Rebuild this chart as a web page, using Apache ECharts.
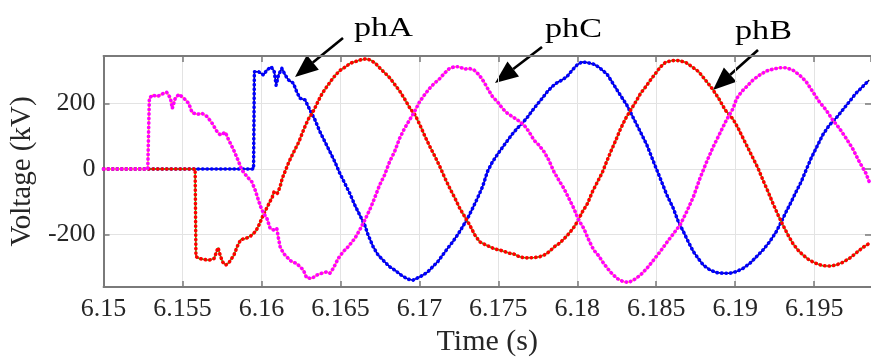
<!DOCTYPE html>
<html><head><meta charset="utf-8">
<script src="https://cdn.jsdelivr.net/npm/echarts@6/dist/echarts.min.js"></script>
<style>html,body{margin:0;padding:0;background:#fff}#c{width:871px;height:362px}</style>
</head><body><div id="c"></div>
<script>
// ---- Data (time in s, voltage in kV) ----
const phA_t = [6.1500,6.1595,6.15955,6.15982,6.16013,6.16034,6.16062,6.16081,6.16093,6.16108,6.16129,6.1615,6.16171,6.16202,6.16223,6.16244,6.16276,6.16307,6.16339,6.1637,6.16402,6.16433,6.16465,6.16496,6.16528,6.16559,6.16591,6.16622,6.16654,6.16675,6.16707,6.16738,6.1678,6.16811,6.16843,6.16885,6.16927,6.16959,6.1699,6.17022,6.17053,6.17085,6.17116,6.17148,6.17179,6.17211,6.17242,6.17274,6.17305,6.17337,6.17368,6.174,6.17431,6.17463,6.17495,6.17526,6.17558,6.17589,6.17621,6.17652,6.17684,6.17715,6.17747,6.17778,6.1781,6.17841,6.17873,6.17905,6.17936,6.17968,6.17999,6.1803,6.18062,6.18104,6.18136,6.18146,6.18188,6.1823,6.18272,6.18314,6.18356,6.18399,6.18441,6.18483,6.18525,6.18567,6.18608,6.1864,6.18672,6.18703,6.18735,6.18766,6.18798,6.1884,6.18882,6.18924,6.18966,6.19008,6.1905,6.19092,6.19134,6.19176,6.19218,6.1926,6.19292,6.19323,6.19355,6.19386,6.19418,6.19449,6.19481,6.19512,6.19554,6.19596,6.19638,6.1968,6.19722,6.19764,6.19806,6.19849];
const phA_v = [0,0,297,297,287,302,312,297,256,287,307,287,272,262,236,216,211,180,150,114,83,53,22,-13,-44,-74,-110,-140,-171,-201,-237,-262,-283,-298,-308,-324,-336,-339,-332,-324,-314,-298,-283,-262,-242,-222,-201,-176,-151,-120,-89,-54,-8,22,45,66,87,107,125,140,158,178,198,216,236,252,264,272,283,302,318,327,325,320,311,312,290,258,226,195,155,114,73,22,-28,-79,-120,-161,-191,-222,-252,-273,-293,-308,-316,-318,-318,-313,-303,-288,-268,-247,-222,-191,-161,-130,-100,-69,-39,-3,33,63,104,134,155,180,205,231,251,272];

const phB_t = [6.1500,6.1558,6.15585,6.15606,6.15638,6.15669,6.157,6.15725,6.15738,6.15753,6.15774,6.15795,6.15826,6.15848,6.15869,6.15901,6.15932,6.15964,6.15985,6.16006,6.16027,6.16048,6.16069,6.1608,6.16101,6.16118,6.16132,6.16153,6.16174,6.16195,6.16216,6.16237,6.16258,6.16279,6.163,6.16321,6.16342,6.16363,6.16385,6.16406,6.16437,6.16469,6.165,6.16532,6.16563,6.16595,6.16626,6.16658,6.16689,6.16721,6.16752,6.16784,6.16815,6.16847,6.16878,6.1691,6.16941,6.16973,6.17004,6.17036,6.17067,6.17099,6.1713,6.17162,6.17193,6.17225,6.17256,6.17288,6.17319,6.17351,6.17382,6.17414,6.17445,6.17477,6.17508,6.1754,6.17571,6.17603,6.17634,6.17666,6.17697,6.17729,6.1776,6.17792,6.17823,6.17855,6.17886,6.17918,6.17949,6.17981,6.18006,6.18033,6.18065,6.18096,6.18128,6.18159,6.18181,6.18212,6.18244,6.18275,6.18307,6.18338,6.1837,6.18401,6.18433,6.18464,6.18496,6.18527,6.18559,6.18601,6.18643,6.18685,6.18727,6.18769,6.18811,6.18853,6.18895,6.18937,6.18987,6.19019,6.1905,6.19082,6.19113,6.19145,6.19176,6.19208,6.19239,6.19271,6.19302,6.19334,6.19365,6.19397,6.19428,6.1947,6.19512,6.19554,6.19596,6.19638,6.1968,6.19722,6.19764,6.19806,6.19849];
const phB_v = [0,0,-267,-273,-276,-278,-273,-240,-262,-283,-293,-285,-262,-235,-215,-212,-204,-190,-170,-146,-125,-105,-85,-69,-74,-54,-28,-3,22,43,63,83,109,134,155,170,190,211,231,246,267,287,302,312,323,328,333,336,333,323,307,292,277,256,236,211,185,165,134,99,68,38,7,-28,-59,-89,-120,-146,-171,-201,-222,-230,-237,-244,-247,-252,-257,-260,-268,-271,-271,-270,-268,-262,-252,-237,-227,-212,-196,-176,-156,-130,-105,-69,-39,-10,17,53,88,124,155,180,205,231,251,272,292,312,326,331,331,326,312,297,272,246,216,180,152,124,94,63,33,2,-34,-69,-105,-140,-171,-201,-227,-247,-262,-278,-288,-295,-296,-293,-285,-273,-257,-240,-227];

const phC_t = [6.1500,6.1528,6.1529,6.1531,6.1534,6.1537,6.1540,6.15424,6.15435,6.15454,6.15477,6.15509,6.1554,6.15561,6.15593,6.15624,6.15656,6.15687,6.15719,6.1574,6.15771,6.15793,6.15824,6.15856,6.15876,6.15908,6.15939,6.1596,6.15992,6.16013,6.16034,6.16055,6.16076,6.16097,6.16108,6.16118,6.16139,6.1616,6.16192,6.16223,6.16244,6.16265,6.16286,6.16318,6.16349,6.16381,6.16412,6.16433,6.16455,6.16486,6.16518,6.16549,6.16591,6.16622,6.16654,6.16685,6.16707,6.16748,6.1678,6.16811,6.16843,6.16875,6.16906,6.16938,6.16969,6.17001,6.17032,6.17064,6.17095,6.17127,6.17158,6.1719,6.17221,6.17253,6.17284,6.17316,6.17347,6.17379,6.1741,6.17432,6.17463,6.17495,6.17526,6.17558,6.17589,6.17621,6.17663,6.17694,6.17726,6.17757,6.17789,6.1782,6.17852,6.17883,6.17915,6.17946,6.17978,6.18009,6.18041,6.18073,6.18104,6.18136,6.18167,6.18209,6.18252,6.18293,6.18325,6.18356,6.18399,6.18441,6.18483,6.18525,6.18567,6.18608,6.18651,6.18693,6.18735,6.18777,6.18819,6.18861,6.18903,6.18945,6.18987,6.19008,6.1904,6.19071,6.19113,6.19155,6.19197,6.19239,6.19281,6.19323,6.19365,6.19407,6.19449,6.19491,6.19533,6.19576,6.19617,6.1966,6.19702,6.19743,6.19786,6.19828,6.19849];
const phC_v = [0,0,216,226,221,229,234,216,185,216,228,216,200,172,167,170,160,140,114,104,112,88,58,22,-3,-23,-39,-64,-112,-135,-150,-181,-186,-181,-212,-237,-257,-268,-283,-288,-298,-308,-332,-334,-324,-318,-314,-318,-303,-273,-252,-237,-212,-186,-156,-125,-100,-49,-18,22,53,94,124,150,175,205,226,246,262,275,292,307,312,312,305,307,302,287,265,246,221,205,185,170,160,150,134,114,88,73,53,27,-8,-34,-59,-89,-120,-156,-181,-217,-247,-265,-288,-314,-334,-344,-346,-339,-324,-303,-278,-252,-224,-198,-171,-130,-85,-28,22,68,109,150,185,214,236,251,272,287,299,305,309,309,302,287,267,236,205,180,150,124,94,63,22,-13,-39];

const xMin = 6.15, xMax = 6.1986, xStep = 0.005;
const yMin = -360, yMax = 345;
const labels = ['phA', 'phC', 'phB'];

// ---- Chart ----
const FONT = 'Liberation Serif';
const pairs = (t, v) => t.map((x, i) => [x, v[i]]);
const axisGray = '#7a7a7a';
const gridGray = '#e3e3e3';

function phase(t, v, baseColor, dotColor) {
  const d = pairs(t, v);
  return [
    {type:'line', data:d, showSymbol:false, silent:true, animation:false,
     lineStyle:{color:baseColor, width:1.5}},
    {type:'line', data:d, showSymbol:false, silent:true, animation:false,
     lineStyle:{color:dotColor, width:3.6, type:[0.4, 4.1], cap:'round', join:'round'}}
  ];
}

function arrow(tx, ty, sx, sy) {
  const dx = sx - tx, dy = sy - ty, L = Math.hypot(dx, dy);
  const ux = dx / L, uy = dy / L, px = -uy, py = ux;
  const hl = 23, hw = 9.5;
  const bx = tx + ux * hl, by = ty + uy * hl;
  return [
    {type:'line', shape:{x1:sx, y1:sy, x2:bx, y2:by}, style:{stroke:'#000', lineWidth:2.6}},
    {type:'polygon', shape:{points:[[tx,ty],[bx+px*hw,by+py*hw],[bx-px*hw,by-py*hw]]}, style:{fill:'#000'}}
  ];
}
function label(text, x, y) {
  return {type:'text', x:x, y:y, scaleX:1.22, style:{text:text, font:'28px "Liberation Serif"', fill:'#000', textAlign:'left', textVerticalAlign:'middle'}};
}

const chart = echarts.init(document.getElementById('c'));
chart.setOption({
  animation:false,
  backgroundColor:'#fff',
  grid:{left:101, top:56, right:0, bottom:75, containLabel:false},
  xAxis:[{
    type:'value', min:xMin, max:xMax, interval:xStep, position:'bottom',
    axisLine:{show:true, onZero:false, lineStyle:{color:axisGray, width:2}},
    axisTick:{show:true, inside:true, length:6, lineStyle:{color:axisGray, width:1.5}},
    axisLabel:{fontFamily:FONT, fontSize:26, color:'#262626', margin:9, showMaxLabel:false,
      formatter:v => String(+v.toFixed(3))},
    splitLine:{show:true, lineStyle:{color:gridGray, width:1}},
    name:'Time (s)', nameLocation:'middle', nameGap:38,
    nameTextStyle:{fontFamily:FONT, fontSize:30, color:'#262626'}
  },{
    type:'value', min:xMin, max:xMax, interval:xStep, position:'top',
    axisLine:{show:true, onZero:false, lineStyle:{color:axisGray, width:2}},
    axisTick:{show:true, inside:true, length:6, lineStyle:{color:axisGray, width:1.5}},
    axisLabel:{show:false}, splitLine:{show:false}
  }],
  yAxis:[{
    type:'value', min:yMin, max:yMax, splitNumber:3, position:'left',
    axisLine:{show:true, onZero:false, lineStyle:{color:axisGray, width:2}},
    axisTick:{show:true, inside:true, length:6, lineStyle:{color:axisGray, width:1.5}},
    axisLabel:{fontFamily:FONT, fontSize:26, color:'#262626', margin:8, showMinLabel:false, showMaxLabel:false},
    splitLine:{show:true, lineStyle:{color:gridGray, width:1}},
    name:'Voltage (kV)', nameLocation:'middle', nameGap:60, nameRotate:90,
    nameTextStyle:{fontFamily:FONT, fontSize:29, color:'#262626'}
  },{
    type:'value', min:yMin, max:yMax, splitNumber:3, position:'right',
    axisLine:{show:false},
    axisTick:{show:true, inside:true, length:6, lineStyle:{color:axisGray, width:1.5}},
    axisLabel:{show:false, showMinLabel:false, showMaxLabel:false}, splitLine:{show:false}
  }],
  series:[
    ...phase(phA_t, phA_v, '#000050', '#0000ff'),
    ...phase(phB_t, phB_v, '#00dd00', '#ff0000'),
    ...phase(phC_t, phC_v, '#ffff00', '#ff00ff')
  ],
  graphic:[
    ...arrow(295, 77, 343, 38),
    ...arrow(495, 83, 542, 47),
    ...arrow(713, 90, 758, 50),
    label(labels[0], 354, 28.5),
    label(labels[1], 545, 30),
    label(labels[2], 735, 32)
  ]
});
</script>
</body></html>
